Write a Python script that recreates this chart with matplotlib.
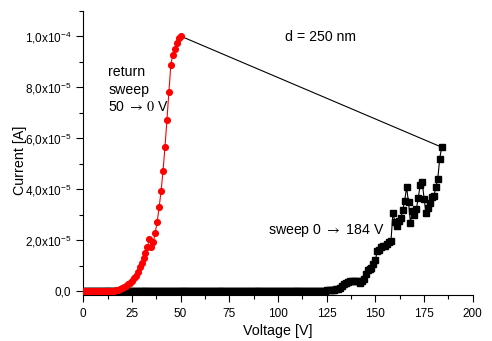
import math
import matplotlib
matplotlib.use('Agg')
import matplotlib.pyplot as plt
from matplotlib.ticker import MultipleLocator, FuncFormatter

plt.rcParams['font.family'] = ['Liberation Sans', 'DejaVu Sans']

# forward sweep 0 -> 184 V, current in units of 1e-5 A
sweep_v = list(range(0, 185))
sweep_i = ([0.0] * 100 +
           [0.003, 0.004, 0.004, 0.005, 0.006, 0.007, 0.008, 0.009, 0.010, 0.011,
            0.012, 0.013, 0.014, 0.015, 0.016, 0.017, 0.018, 0.020, 0.022, 0.024,
            0.026, 0.028, 0.030, 0.032, 0.034, 0.036, 0.038, 0.039] +
           [0.04, 0.05, 0.08, 0.10, 0.12, 0.20, 0.28, 0.33, 0.38, 0.40,
            0.41, 0.42, 0.42, 0.40, 0.32, 0.40, 0.48, 0.70, 0.84, 0.87,
            0.92, 1.06, 1.23, 1.59, 1.62, 1.74, 1.76, 1.79, 1.86, 1.94,
            1.98, 3.08, 2.73, 2.56, 2.77, 2.86, 3.18, 3.54, 4.08, 3.49,
            2.69, 3.15, 2.99, 3.21, 3.67, 4.16, 4.30, 3.63, 3.06, 3.25,
            3.47, 3.69, 3.72, 4.08, 4.40, 5.19, 5.65])

# return sweep 50 -> 0 V (listed from 0 to 50), units of 1e-5 A
ret_v = list(range(0, 51))
ret_i = [0.0, 0.0, 0.0, 0.0, 0.0, 0.0, 0.0, 0.001, 0.001, 0.002,
         0.003, 0.004, 0.006, 0.009, 0.013, 0.02, 0.03, 0.045, 0.065, 0.09,
         0.12, 0.16, 0.21, 0.27, 0.34, 0.42, 0.51, 0.62, 0.75, 0.95,
         1.10, 1.29, 1.49, 1.73, 2.05, 1.73, 1.92, 2.30, 2.73, 3.29,
         3.93, 4.72, 5.65, 6.72, 7.80, 8.87, 9.27, 9.50, 9.72, 9.92,
         10.0]

scale = 1e-5
sweep_a = [v * scale for v in sweep_i]
ret_a = [v * scale for v in ret_i]

fig = plt.figure(figsize=(4.92, 3.41), dpi=100)
ax = fig.add_axes([0.169, 0.135, 0.792, 0.834])

ax.plot(sweep_v, sweep_a, color='black', lw=0.8, marker='s', ms=3.8, zorder=2)
# jump from end of forward sweep to start of return sweep
ax.plot([sweep_v[-1], ret_v[-1]], [sweep_a[-1], ret_a[-1]], color='black', lw=0.8, zorder=2)
ax.plot(ret_v, ret_a, color='red', lw=0.8, marker='o', ms=4.1, zorder=3)

ax.set_xlim(0, 200)
ax.set_ylim(-1.4e-6, 1.1e-4)
ax.spines['top'].set_visible(False)
ax.spines['right'].set_visible(False)
ax.xaxis.set_major_locator(MultipleLocator(25))
ax.xaxis.set_minor_locator(MultipleLocator(12.5))
ax.yaxis.set_major_locator(MultipleLocator(2e-5))
ax.yaxis.set_minor_locator(MultipleLocator(1e-5))
ax.tick_params(which='major', direction='out', length=5, width=0.8, labelsize=8.5)
ax.tick_params(axis='x', which='major', pad=4.5)
ax.tick_params(which='minor', direction='out', length=3, width=0.8)


def yfmt(y, pos):
    if abs(y) < 1e-12:
        return '0,0'
    exp = int(math.floor(math.log10(abs(y)) + 1e-9))
    m = y / 10.0 ** exp
    s = ('%.1f' % m).replace('.', '{,}')
    return r'$\mathregular{%sx10^{%d}}$' % (s, exp)


ax.yaxis.set_major_formatter(FuncFormatter(yfmt))

ax.set_xlabel('Voltage [V]', fontsize=10.3, labelpad=2.5)
ax.set_ylabel('Current [A]', fontsize=10.3)
ax.yaxis.set_label_coords(-0.145, 0.475)

ax.text(122, 9.95e-5, 'd = 250 nm', fontsize=10.2, ha='center', va='center')
ax.text(13.0, 7.9e-5, 'return\nsweep\n50 ${\\rightarrow}\\,0$ V', fontsize=10.2,
        ha='left', va='center', linespacing=1.3, math_fontfamily='stix')
ax.text(95, 2.4e-5, 'sweep 0 ${\\rightarrow}$ 184 V', fontsize=10.2, ha='left', va='center',
        math_fontfamily='stix')

fig.savefig('out.png', dpi=100)
